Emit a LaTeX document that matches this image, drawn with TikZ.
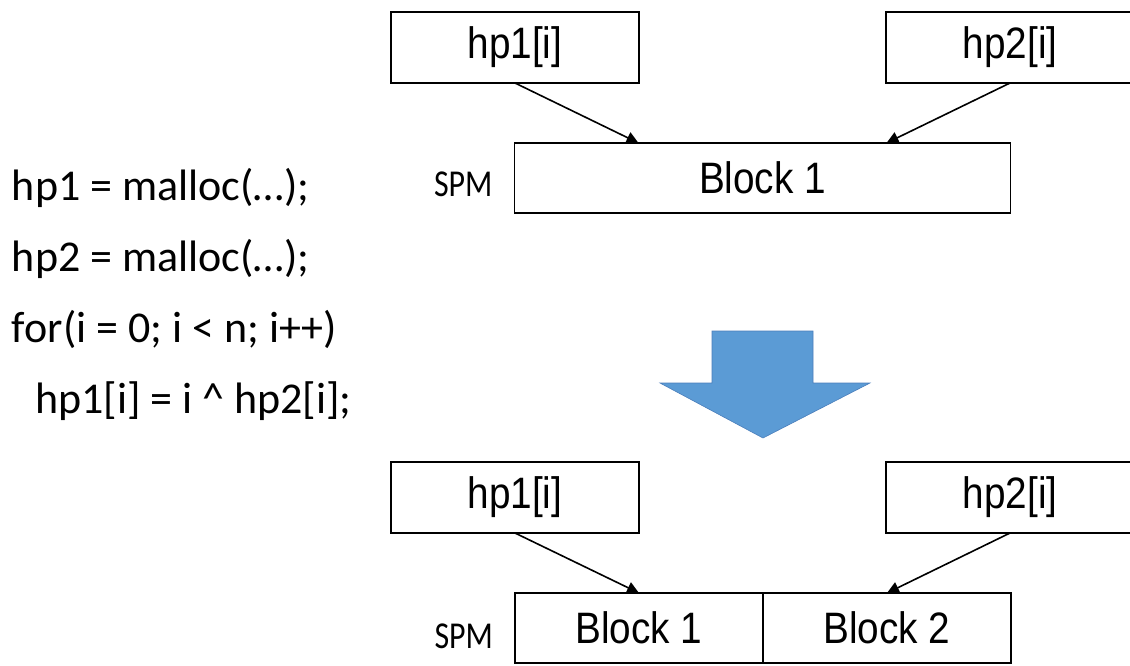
\documentclass[tikz,border=0pt]{standalone}
\usepackage{fontspec}
\setmainfont{Carlito}
\newfontfamily\boxfont[FakeStretch=0.88]{Liberation Sans}
\newfontfamily\spmfont[FakeStretch=0.84]{Carlito}
\usepackage{xcolor}
\usetikzlibrary{arrows.meta,positioning,calc}
\definecolor{officeblue}{HTML}{5B9BD5}
\definecolor{officeedge}{HTML}{4A7EBB}

\begin{document}
\begin{tikzpicture}[
  x=1pt, y=-1pt,
  every node/.style={inner sep=0pt, outer sep=0pt},
  box/.style={draw, line width=1.6pt,
              minimum width=248pt, minimum height=71pt,
              font=\boxfont\fontsize{44}{48}\selectfont},
  blk/.style={box, minimum height=70pt},
  spm/.style={font=\spmfont\fontsize{38}{40}\selectfont},
  code/.style={anchor=base west, font=\fontsize{44}{50}\selectfont},
  arr/.style={-{Triangle[length=12pt, width=12pt]}, line width=1.6pt}
]
\useasboundingbox (0,0) rectangle (1130,665);

% source code
\node[code] (l1) at (12,200) {hp1 = malloc(…);};
\node[code] (l2) at (12,271) {hp2 = malloc(…);};
\node[code] (l3) at (12,342) {for(i = 0; i < n; i++)};
\node[code] (l4) at (35,413) {hp1[i] = i \^{} hp2[i];};

% before
\node[box] (hp1) at (515,47.5) {hp1[i]};
\node[box] (hp2) at (1010,47.5) {hp2[i]};
\coordinate (mid) at ($(hp1.south)!0.5!(hp2.south)$);
\node[blk, below=60pt of mid, minimum width=496pt] (blk) {Block 1};
\node[spm, left=22pt of blk, yshift=-6pt] (spm) {SPM};

\draw[arr] (hp1.south) -- ($(blk.north west)!0.25!(blk.north east)$);
\draw[arr] (hp2.south) -- ($(blk.north west)!0.75!(blk.north east)$);

% big arrow
\filldraw[fill=officeblue, draw=officeedge, line width=0.6pt]
  (712,331) -- (813,331) -- (813,383) -- (870,383) -- (763,438)
  -- (660,383) -- (712,383) -- cycle;

% after
\node[box] (hp1b) at (515,497.5) {hp1[i]};
\node[box] (hp2b) at (1010,497.5) {hp2[i]};
\node[blk, below right=60pt and 0pt of hp1b.south] (blk1b) {Block 1};
\node[blk, right=0pt of blk1b] (blk2b) {Block 2};
\node[spm, left=22pt of blk1b, yshift=-8pt] (spmb) {SPM};

\draw[arr] (hp1b.south) -- (blk1b.north);
\draw[arr] (hp2b.south) -- (blk2b.north);

\end{tikzpicture}
\end{document}
